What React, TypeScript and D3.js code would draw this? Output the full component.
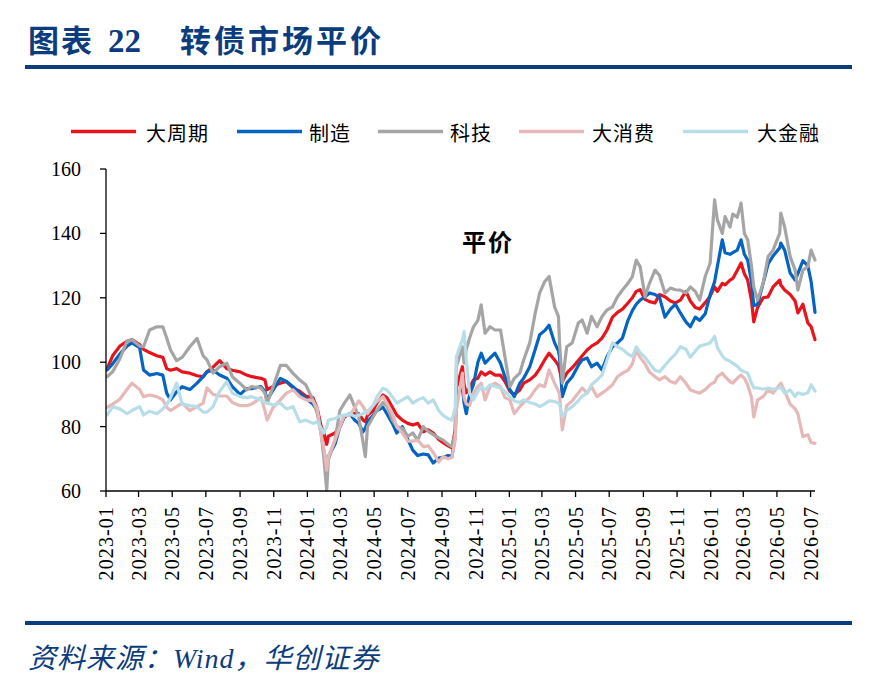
import React from "react";
import * as d3 from "d3";

const dates = [
  "2023-01-03","2023-01-13","2023-01-26","2023-02-08","2023-02-17","2023-03-03","2023-03-10","2023-03-21","2023-04-03","2023-04-14",
  "2023-04-21","2023-04-28","2023-05-09","2023-05-19","2023-06-02","2023-06-15","2023-06-26","2023-07-03","2023-07-14","2023-07-26",
  "2023-08-08","2023-08-18","2023-09-01","2023-09-13","2023-09-22","2023-10-09","2023-10-16","2023-10-20","2023-10-31","2023-11-13",
  "2023-11-24","2023-12-06","2023-12-18","2023-12-29","2024-01-11","2024-01-19","2024-01-26","2024-01-31","2024-02-05","2024-02-08",
  "2024-02-20","2024-02-29","2024-03-08","2024-03-18","2024-03-27","2024-04-03","2024-04-11","2024-04-15","2024-04-19","2024-04-29",
  "2024-05-06","2024-05-17","2024-05-24","2024-06-03","2024-06-11","2024-06-21","2024-07-01","2024-07-10","2024-07-19","2024-07-29",
  "2024-08-07","2024-08-16","2024-08-26","2024-09-03","2024-09-12","2024-09-19","2024-09-25","2024-09-27","2024-10-08","2024-10-11",
  "2024-10-15","2024-10-21","2024-10-28","2024-11-05","2024-11-11","2024-11-18","2024-11-27","2024-12-06","2024-12-16","2024-12-24",
  "2025-01-02","2025-01-10","2025-01-20","2025-01-27","2025-02-07","2025-02-17","2025-02-25","2025-03-06","2025-03-14","2025-03-24",
  "2025-03-31","2025-04-02","2025-04-07","2025-04-15","2025-04-25","2025-05-06","2025-05-13","2025-05-22","2025-05-30","2025-06-09",
  "2025-06-18","2025-06-27","2025-07-07","2025-07-16","2025-07-25","2025-08-04","2025-08-12","2025-08-19","2025-08-26","2025-09-04",
  "2025-09-12","2025-09-22","2025-09-30","2025-10-10","2025-10-20","2025-10-29","2025-11-07","2025-11-17","2025-11-25","2025-12-04",
  "2025-12-12","2025-12-22","2025-12-31","2026-01-08","2026-01-13","2026-01-22","2026-01-27","2026-02-05","2026-02-10","2026-02-18",
  "2026-02-25","2026-03-03","2026-03-09","2026-03-16","2026-03-20","2026-03-27","2026-04-06","2026-04-15","2026-04-24","2026-05-06",
  "2026-05-08","2026-05-15","2026-05-25","2026-06-03","2026-06-08","2026-06-17","2026-06-26","2026-07-02","2026-07-09",
];

// 大周期
const cyclical = [
  98, 102, 105, 106.5, 107, 105.5, 104, 103, 102, 101.5,
  98, 97.5, 98, 97, 96.6, 95.8, 95.5, 97, 98.5, 100.5,
  98, 97.5, 97, 96, 95.5, 95, 94.5, 91.5, 92.5, 93.5,
  94, 92, 91, 89.5, 89, 85.5, 80, 78, 74.5, 77,
  78, 80, 83, 84, 84, 84, 82, 81.5, 83.5, 85,
  87.3, 89.8, 89, 86, 83.6, 82, 81, 80.5, 81, 78.4,
  79, 78, 76, 75, 74, 73.4, 79, 92, 98.6, 93,
  90.5, 92, 94.5, 95, 97, 96, 97, 96, 96, 94,
  91, 90, 91.4, 93.5, 94.5, 96, 98, 100.7, 102.8, 100.7,
  99, 97.6, 94, 96.6, 98.3, 100.5, 102, 103.8, 105, 106,
  107.5, 110, 114, 115.5, 116.5, 118.4, 120, 122, 122.5, 119.5,
  118.8, 118.4, 121, 120.3, 119, 118.4, 119.3, 122, 119, 117,
  116.5, 118.5, 120.5, 123.4, 122, 124.5, 124, 125.5, 126, 128.5,
  130.8, 127.5, 125.5, 119, 112.5, 117, 120, 120.3, 123.4, 125.5,
  124, 122.4, 121, 119, 115.3, 118, 112.2, 111, 107,
];

// 制造
const manufacturing = [
  97.6, 99.5, 102.5, 105, 106, 104.5, 97.6, 96, 96.5, 96,
  90.4, 88.3, 90.8, 92.4, 91.5, 93.5, 95.5, 97, 97.5, 96,
  95, 92.4, 90, 91.8, 91.8, 92.4, 91, 88.3, 91.4, 95,
  94, 92.4, 90.4, 88.8, 87, 85, 78, 72, 68.5, 70.7,
  74.5, 80, 83, 84, 82, 81, 78.4, 79.5, 81.5, 83.5,
  85, 86, 84, 81, 78, 80, 76, 72.7, 71, 71.5,
  71.2, 68.7, 70.2, 70.5, 71, 70.7, 77, 90, 92, 87.3,
  84, 90, 93, 100, 102.8, 99.7, 101.3, 102.8, 99.7, 95.5,
  91.5, 89.3, 93.5, 95, 98.6, 104, 108.5, 109.8, 111.5, 106,
  103.5, 101.7, 89.3, 93.5, 95.5, 99, 100.7, 101.3, 98.6, 99.7,
  97.6, 101.7, 104.8, 106, 107.5, 113, 116, 118, 119.3, 120.3,
  121.5, 121, 120.3, 114, 116.5, 118, 115.3, 112.5, 111, 114,
  113, 115, 121, 125, 129.7, 138, 134, 133.5, 134, 134.8,
  138, 133.5, 131.7, 125, 117.5, 118, 124.5, 130.5, 133, 135.5,
  137, 134.8, 127.7, 125.5, 127.5, 131.5, 130, 125, 115.5,
];

// 科技
const technology = [
  95.5, 97, 101, 106.5, 107, 105, 104.8, 110, 111, 111,
  107.5, 103.8, 100.5, 101.5, 104.8, 107.4, 102, 100.7, 96.6, 98.6,
  99.7, 95.5, 93.4, 91.4, 92.4, 92, 90.4, 87.3, 92.4, 99,
  99, 96.5, 94.5, 93, 88.3, 84, 78, 70, 60.3, 69.6,
  75.8, 85, 87.3, 89.8, 86, 83, 75, 70.7, 80, 83,
  85, 87.5, 86.5, 82, 80, 79.5, 77, 78, 75.8, 80,
  78.5, 77.5, 76.5, 75.8, 74.5, 73.8, 78, 98.6, 104.8, 99.7,
  104, 107.5, 111, 113, 117.8, 109, 111, 110, 110, 101.7,
  92.4, 95, 96.6, 100.7, 106, 115.3, 121.5, 125, 126.6, 117.2,
  114.2, 106, 93.5, 104.8, 106, 112.2, 113.1, 109, 114.2, 111,
  114.2, 116.2, 117.2, 120.3, 122.4, 124.5, 126.6, 131.7, 129.7, 120.3,
  124.5, 128.6, 127, 121.5, 123, 122.5, 122.4, 121.5, 123.4, 122,
  119.3, 126.6, 130.8, 150.4, 144.2, 140, 145.2, 142, 146, 145,
  149.4, 140, 138, 129.7, 123.4, 119.3, 124.5, 132.8, 134.8, 140,
  146.3, 142, 132.8, 128.6, 122.4, 128.6, 129.7, 134.8, 131.7,
];

// 大消费
const consumer = [
  86, 87, 88.5, 91.5, 93.5, 91.5, 89.3, 89.8, 89.3, 88.3,
  86, 85, 86.2, 87.3, 85, 86.2, 87.3, 92, 90, 89.5,
  89.5, 87.5, 86.5, 86.5, 87, 89, 85, 82, 86, 88.3,
  90.4, 91.4, 89.3, 88.3, 88, 85.5, 77, 73, 66.5, 70.7,
  75.8, 80, 83.5, 83.5, 86, 88, 86.2, 85, 84, 86.5,
  87.8, 89.3, 87.3, 84, 80, 78, 75.5, 75.5, 75.8, 73.8,
  74, 72, 69, 70.7, 70, 70.5, 76, 85, 96.6, 89,
  87, 86.5, 90.4, 92.5, 93.5, 88.3, 92.4, 93.5, 92.4, 89,
  88.3, 84, 86.2, 87.5, 89, 91.5, 93, 92.4, 97.6, 93.5,
  91, 90, 79, 86.5, 88, 90.4, 92, 90.4, 92.4, 89.3,
  90.4, 91.5, 93, 95.5, 96.6, 97.5, 99.5, 103.8, 101.5, 99.5,
  97, 95.5, 94.5, 95.5, 94, 93.5, 95.5, 93.5, 91.4, 90.8,
  90.4, 91.5, 93, 93.8, 95.5, 96.6, 95.5, 94, 93.5, 95,
  96, 95, 93, 89, 83, 88.3, 89.3, 91.4, 90.4, 93,
  93.5, 91, 87, 85.5, 84, 76.9, 77.5, 75, 74.8,
];

// 大金融
const financial = [
  83.6, 86.2, 85.5, 84, 85, 86.2, 83.6, 84.8, 84, 85.5,
  86.8, 89, 93.5, 87, 86.5, 86.2, 84.5, 84.5, 86.2, 91,
  94, 90.4, 89.3, 89, 89.3, 88.3, 87.5, 87.3, 86.7, 87.3,
  85.5, 86.2, 81.5, 82, 81, 81.5, 79.5, 78, 80, 82,
  82.5, 83.3, 83.6, 84, 83.2, 83.5, 84, 84.3, 84.8, 86.5,
  89.3, 91.9, 91.4, 89.3, 87.3, 88.3, 89.3, 87.3, 88.3, 89,
  87.3, 88.3, 85, 83.5, 82.5, 82, 86, 101.7, 107, 109.5,
  100.7, 90.4, 88.3, 91, 92.4, 91.4, 93, 92.5, 92, 91,
  89.3, 88, 87.5, 88.3, 87.5, 87, 86.2, 87, 88, 87.8,
  87.3, 87, 83, 85, 86.2, 88, 89.5, 90.4, 93, 94.5,
  96, 100.7, 106, 104.8, 104, 102.5, 101.7, 104.8, 103, 101.5,
  99.7, 97.5, 97, 99, 101, 102.5, 104.8, 104, 101.5, 103.5,
  105, 105.5, 106, 108, 104.5, 102, 101, 100.3, 99.7, 98.8,
  97.5, 97, 96.6, 93.5, 92, 92, 91.6, 92, 91.6, 92,
  92.4, 90.4, 91.4, 89.3, 90.5, 90, 90.5, 93, 91,
];

const seriesNames = ["大周期", "制造", "科技", "大消费", "大金融"];
const seriesValues = [cyclical, manufacturing, technology, consumer, financial];
const seriesColors = ["#E8141C", "#0563C1", "#A5A5A5", "#E6B8B7", "#B7DEE8"];

const yTicks = [60, 80, 100, 120, 140, 160];
const xTickLabels = [
  "2023-01","2023-03","2023-05","2023-07","2023-09","2023-11",
  "2024-01","2024-03","2024-05","2024-07","2024-09","2024-11",
  "2025-01","2025-03","2025-05","2025-07","2025-09","2025-11",
  "2026-01","2026-03","2026-05","2026-07",
];
const xDomain = ["2023-01-01", "2026-07-09"];

const titleLabel = "图表";
const titleNumber = "22";
const titleText = "转债市场平价";
const annotation = "平价";
const sourcePrefix = "资料来源：";
const sourceWind = "Wind";
const sourceSuffix = "，华创证券";

const CJK = "'Noto Sans CJK SC', sans-serif";
const SERIF = "'Liberation Serif', 'Times New Roman', serif";
const NAVY = "#0B3C7D";

export default function App() {
  const W = 871;
  const H = 681;
  const parseDay = d3.timeParse("%Y-%m-%d");
  const parseMonth = d3.timeParse("%Y-%m");

  const left = 106, right = 815, top = 169, bottom = 491;

  const x = d3
    .scaleTime()
    .domain(xDomain.map((d) => parseDay(d) as Date))
    .range([left, right]);
  const y = d3.scaleLinear().domain([60, 160]).range([bottom, top]);

  const parsedDates = dates.map((d) => parseDay(d) as Date);
  const line = d3
    .line<number>()
    .x((_, i) => x(parsedDates[i]))
    .y((v) => y(v))
    .curve(d3.curveLinear);

  const legendItems = [
    { lx: 71, tx: 146 },
    { lx: 237, tx: 309 },
    { lx: 378, tx: 450 },
    { lx: 519, tx: 592 },
    { lx: 683, tx: 757 },
  ];

  return (
    <div style={{ position: "absolute", left: 0, top: 0, width: W, height: H, background: "#fff" }}>
      <svg width={W} height={H} viewBox={`0 0 ${W} ${H}`} style={{ display: "block" }}>
        <rect x={0} y={0} width={W} height={H} fill="#fff" />
        {/* Title */}
        <text x={28} y={52} fill={NAVY} fontFamily={CJK} fontWeight={700} fontSize={31} letterSpacing={2}>
          {titleLabel}
        </text>
        <text x={108} y={52} fill={NAVY} fontFamily={SERIF} fontWeight={700} fontSize={33}>
          {titleNumber}
        </text>
        <text x={180} y={52} fill={NAVY} fontFamily={CJK} fontWeight={700} fontSize={31} letterSpacing={3}>
          {titleText}
        </text>
        <rect x={25} y={65} width={827} height={4} fill={NAVY} />

        {/* Legend */}
        {seriesNames.map((name, i) => (
          <g key={name}>
            <line
              x1={legendItems[i].lx}
              x2={legendItems[i].lx + 65}
              y1={131.5}
              y2={131.5}
              stroke={seriesColors[i]}
              strokeWidth={3.5}
            />
            <text
              x={legendItems[i].tx}
              y={132}
              dominantBaseline="central"
              fontFamily={CJK}
              fontSize={20}
              letterSpacing={1}
              fill="#000"
            >
              {name}
            </text>
          </g>
        ))}

        {/* Series */}
        <defs>
          <clipPath id="plotClip">
            <rect x={left} y={top - 10} width={right - left + 2} height={bottom - top + 12} />
          </clipPath>
        </defs>
        <g clipPath="url(#plotClip)">
          {seriesValues.map((vals, i) => (
            <path
              key={seriesNames[i]}
              d={line(vals) || ""}
              fill="none"
              stroke={seriesColors[i]}
              strokeWidth={3.2}
              strokeLinejoin="round"
              strokeLinecap="round"
            />
          ))}
        </g>

        {/* Y axis */}
        <line x1={left} x2={left} y1={top} y2={bottom} stroke="#000" strokeWidth={1.3} />
        {yTicks.map((t) => (
          <g key={t}>
            <line x1={left - 6} x2={left} y1={y(t)} y2={y(t)} stroke="#000" strokeWidth={1.3} />
            <text
              x={81}
              y={y(t)}
              textAnchor="end"
              dominantBaseline="central"
              fontFamily={SERIF}
              fontSize={20}
              fill="#000"
            >
              {t}
            </text>
          </g>
        ))}

        {/* X axis */}
        <line x1={left} x2={right} y1={bottom} y2={bottom} stroke="#000" strokeWidth={1.3} />
        {xTickLabels.map((lab) => {
          const px = x(parseMonth(lab) as Date);
          return (
            <g key={lab}>
              <line x1={px} x2={px} y1={bottom} y2={bottom + 6} stroke="#000" strokeWidth={1.3} />
              <text
                transform={`translate(${px},${506}) rotate(-90)`}
                textAnchor="end"
                dominantBaseline="central"
                fontFamily={SERIF}
                fontSize={20}
                letterSpacing={1.1}
                fill="#000"
              >
                {lab}
              </text>
            </g>
          );
        })}

        {/* Annotation */}
        <text x={462} y={251} fontFamily={CJK} fontWeight={700} fontSize={24} letterSpacing={2} fill="#000">
          {annotation}
        </text>

        {/* Footer */}
        <rect x={25} y={621} width={827} height={4} fill={NAVY} />
        <text x={28} y={668} fill={NAVY} fontSize={28} fontStyle="italic" letterSpacing={1}>
          <tspan fontFamily={CJK}>{sourcePrefix}</tspan>
          <tspan fontFamily={SERIF}>{sourceWind}</tspan>
          <tspan fontFamily={CJK}>{sourceSuffix}</tspan>
        </text>
      </svg>
    </div>
  );
}
